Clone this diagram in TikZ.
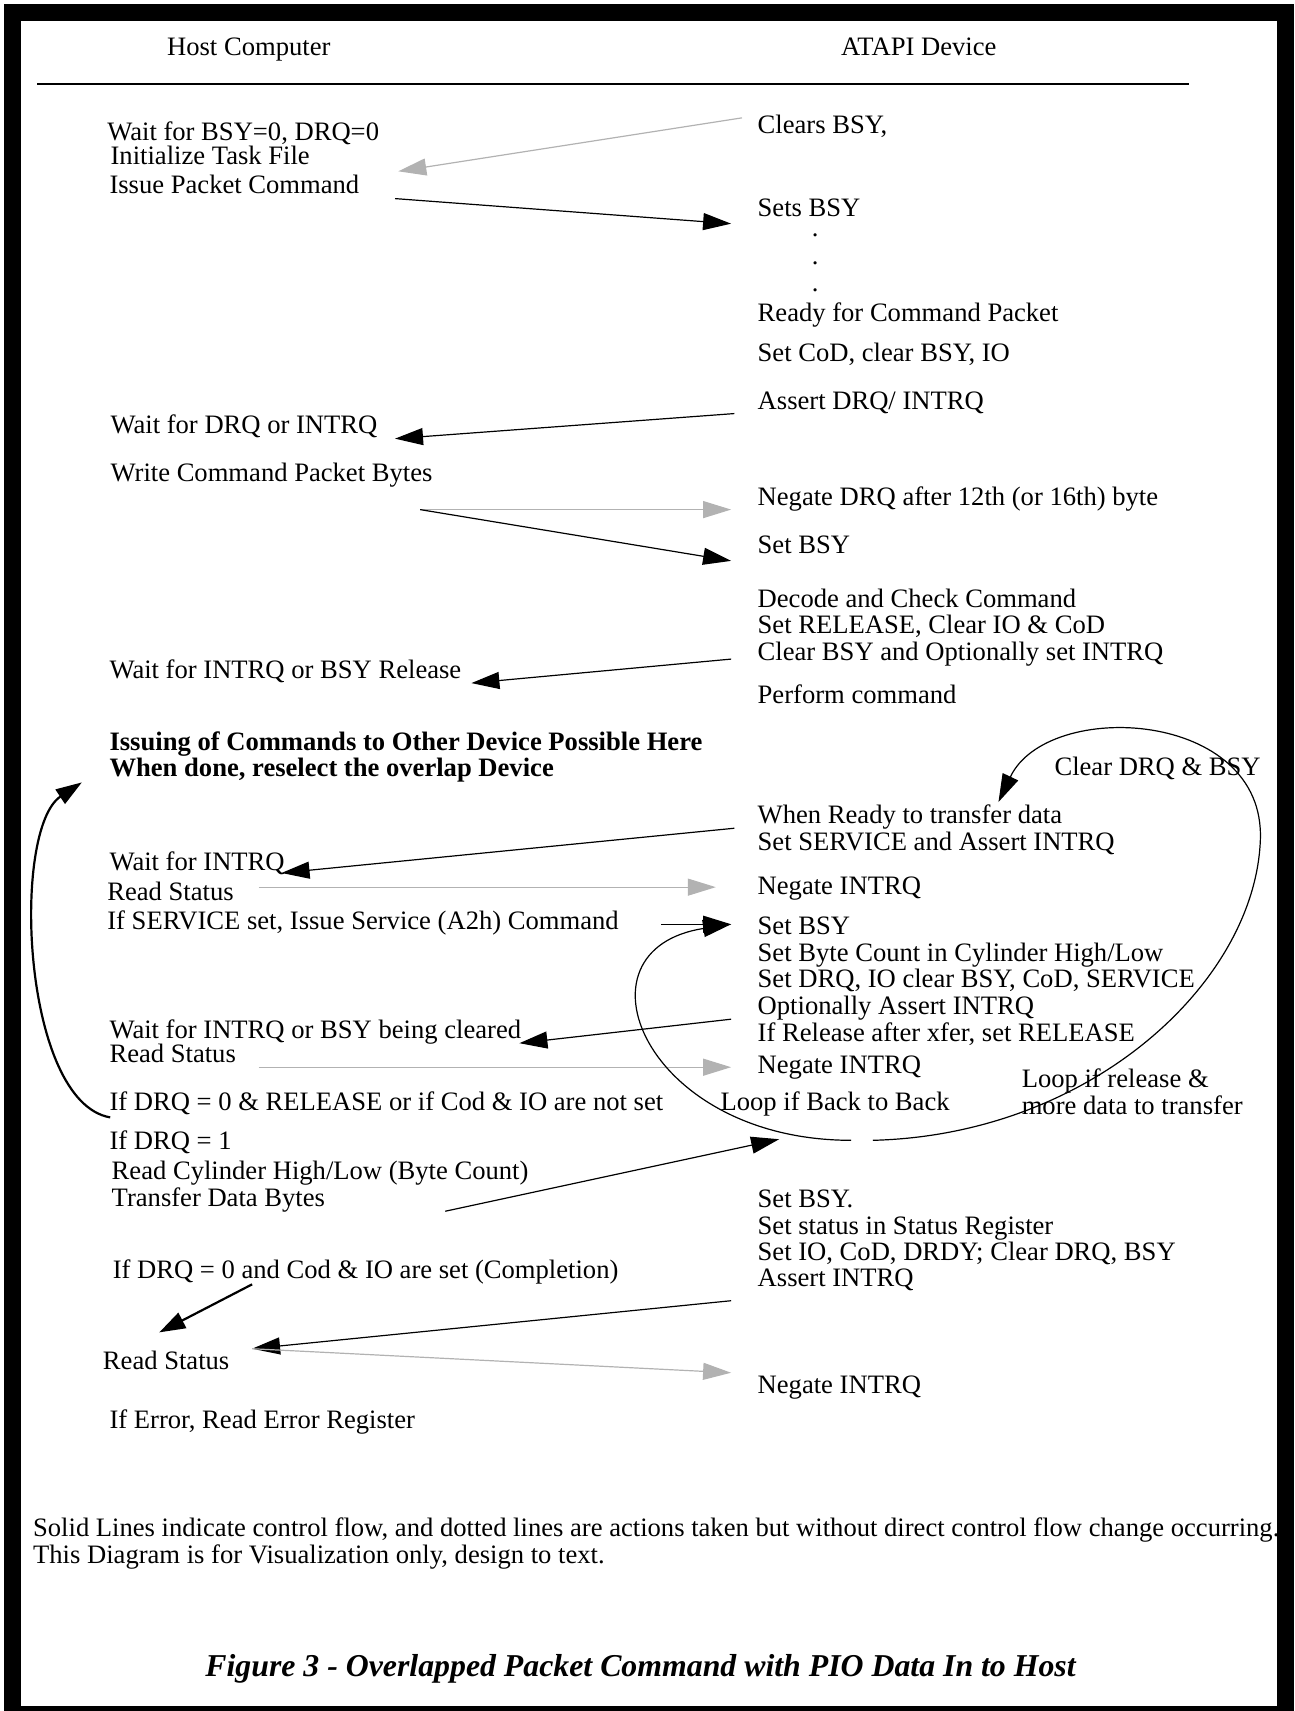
\documentclass[tikz,border=0pt]{standalone}
\usepackage{fontspec}
\setmainfont{Liberation Serif}
\usetikzlibrary{arrows.meta}

\tikzset{
  txt/.style={anchor=base west,inner sep=0pt,font=\fontsize{13.3}{16}\selectfont},
  bld/.style={txt,font=\fontsize{13.3}{16}\selectfont\bfseries},
  arr/.style={line width=0.6pt,-{Triangle[length=14pt,width=8.5pt]}},
  grayarr/.style={arr,color=black!30},
  thickarr/.style={line width=1.1pt,-{Triangle[length=13pt,width=8.5pt]}}
}

\begin{document}
\begin{tikzpicture}[x=0.5455pt,y=-0.5455pt]
\useasboundingbox (0,0) rectangle (1186,1568);
\draw[line width=8.5pt] (11.5,11.5) rectangle (1178,1571);

% headings
\node[txt,anchor=base] (host) at (228,51) {Host Computer};
\node[txt,anchor=base] (device) at (842,51) {ATAPI Device};
\coordinate (rulel) at (34,77);
\coordinate (ruler) at (1090,77);
\draw[line width=0.8pt] (rulel) -- (ruler);

% host side
\node[txt] (h1) at (98,129) {Wait for BSY=0, DRQ=0};
\node[txt] (h2) at (101,151) {Initialize Task File};
\node[txt] (h3) at (100,177) {Issue Packet Command};
\node[txt] (h4) at (101,397) {Wait for DRQ or INTRQ};
\node[txt] (h5) at (101,441) {Write Command Packet Bytes};
\node[txt] (h6) at (100,622) {Wait for INTRQ or BSY Release};
\node[bld] (h7) at (100,688) {Issuing of Commands to Other Device Possible Here};
\node[bld] (h8) at (100,712) {When done, reselect the overlap Device};
\node[txt] (h9) at (100,798) {Wait for INTRQ};
\node[txt] (h10) at (98,825) {Read Status};
\node[txt] (h11) at (98,852) {If SERVICE set, Issue Service (A2h) Command};
\node[txt] (h12) at (100,952) {Wait for INTRQ or BSY being cleared};
\node[txt] (h13) at (100,974) {Read Status};
\node[txt] (h14) at (100,1018) {If DRQ = 0 \& RELEASE or if Cod \& IO are not set};
\node[txt] (h15) at (100,1053) {If DRQ = 1};
\node[txt] (h16) at (102,1081) {Read Cylinder High/Low (Byte Count)};
\node[txt] (h17) at (102,1106) {Transfer Data Bytes};
\node[txt] (h18) at (103,1172) {If DRQ = 0 and Cod \& IO are set (Completion)};
\node[txt] (h19) at (94,1255) {Read Status};
\node[txt] (h20) at (100,1309) {If Error, Read Error Register};

% device side
\node[txt] (d1) at (694,122) {Clears BSY,};
\node[txt] (d2) at (694,198) {Sets BSY};
\node[txt,anchor=base] (dot1) at (747,217) {.};
\node[txt,anchor=base] (dot2) at (747,242) {.};
\node[txt,anchor=base] (dot3) at (747,267) {.};
\node[txt] (d3) at (694,295) {Ready for Command Packet};
\node[txt] (d4) at (694,331) {Set CoD, clear BSY, IO};
\node[txt] (d5) at (694,375) {Assert DRQ/ INTRQ};
\node[txt] (d6) at (694,463) {Negate DRQ after 12th (or 16th) byte};
\node[txt] (d7) at (694,507) {Set BSY};
\node[txt] (d8) at (694,557) {Decode and Check Command};
\node[txt] (d9) at (694,581) {Set RELEASE, Clear IO \& CoD};
\node[txt] (d10) at (694,605) {Clear BSY and Optionally set INTRQ};
\node[txt] (d11) at (694,645) {Perform command};
\node[txt] (d12) at (966,711) {Clear DRQ \& BSY};
\node[txt] (d13) at (694,755) {When Ready to transfer data};
\node[txt] (d14) at (694,779) {Set SERVICE and Assert INTRQ};
\node[txt] (d15) at (694,820) {Negate INTRQ};
\node[txt] (d16) at (694,856) {Set BSY};
\node[txt] (d17) at (694,881) {Set Byte Count in Cylinder High/Low};
\node[txt] (d18) at (694,905) {Set DRQ, IO clear BSY, CoD, SERVICE};
\node[txt] (d19) at (694,930) {Optionally Assert INTRQ};
\node[txt] (d20) at (694,954) {If Release after xfer, set RELEASE};
\node[txt] (d21) at (694,984) {Negate INTRQ};
\node[txt] (d22) at (660,1018) {Loop if Back to Back};
\node[txt] (d23) at (936,997) {Loop if release \&};
\node[txt] (d24) at (936,1021) {more data to transfer};
\node[txt] (d25) at (694,1107) {Set BSY.};
\node[txt] (d26) at (694,1131) {Set status in Status Register};
\node[txt] (d27) at (694,1155) {Set IO, CoD, DRDY; Clear DRQ, BSY};
\node[txt] (d28) at (694,1179) {Assert INTRQ};
\node[txt] (d29) at (694,1277) {Negate INTRQ};

% arrow ends
\coordinate (a1s) at (680,108);  \coordinate (a1e) at (365,157);
\coordinate (a2s) at (362,182);  \coordinate (a2e) at (670,205);
\coordinate (a3s) at (673,379);  \coordinate (a3e) at (362,402);
\coordinate (a4s) at (385,467);  \coordinate (a4e) at (670,467);
\coordinate (a5e) at (670,514);
\coordinate (a6s) at (670,604);  \coordinate (a6e) at (432,626);
\coordinate (a7s) at (673,759);  \coordinate (a7e) at (258,800);
\coordinate (a8s) at (237,813);  \coordinate (a8e) at (656,813);
\coordinate (a9s) at (606,847);  \coordinate (a9e) at (670,847);
\coordinate (a10s) at (670,934); \coordinate (a10e) at (476,956);
\coordinate (a11s) at (237,978); \coordinate (a11e) at (670,978);
\coordinate (a12s) at (408,1110); \coordinate (a12e) at (714,1044);
\coordinate (a13s) at (231,1177); \coordinate (a13e) at (146,1221);
\coordinate (a14s) at (670,1192); \coordinate (a14e) at (231,1236);
\coordinate (a15e) at (670,1258);
\coordinate (loopa) at (780,1045);
\coordinate (loopb) at (800,1045);
\coordinate (loopr) at (1155,770);
\coordinate (loopt) at (915,735);
\coordinate (backs) at (101,1024);
\coordinate (backe) at (75,717);

% control flow and actions
\draw[grayarr] (a1s) -- (a1e);
\draw[arr] (a2s) -- (a2e);
\draw[arr] (a3s) -- (a3e);
\draw[grayarr] (a4s) -- (a4e);
\draw[arr] (a4s) -- (a5e);
\draw[arr] (a6s) -- (a6e);
\draw[arr] (a7s) -- (a7e);
\draw[grayarr] (a8s) -- (a8e);
\draw[arr] (a9s) -- (a9e);
\draw[arr] (a10s) -- (a10e);
\draw[grayarr] (a11s) -- (a11e);
\draw[arr] (a12s) -- (a12e);
\draw[thickarr] (a13s) -- (a13e);
\draw[arr] (a14s) -- (a14e);
\draw[grayarr] (a14e) -- (a15e);

% loops
\draw[thickarr] (backs) .. controls (20,1010) and (10,760) .. (backe);
\draw[arr] (loopa) .. controls (590,1045) and (520,870) .. (a9e);
\draw[arr] (loopb) .. controls (1000,1040) and (1150,900) .. (loopr)
  .. controls (1160,650) and (960,640) .. (loopt);

% footer
\node[txt] (f1) at (30,1408) {Solid Lines indicate control flow, and dotted lines are actions taken but without direct control flow change occurring.};
\node[txt] (f2) at (30,1433) {This Diagram is for Visualization only, design to text.};
\node[txt,anchor=base,font=\fontsize{15.9}{19}\selectfont\bfseries\itshape] (cap) at (587,1536) {Figure 3 - Overlapped Packet Command with PIO Data In to Host};
\end{tikzpicture}
\end{document}
